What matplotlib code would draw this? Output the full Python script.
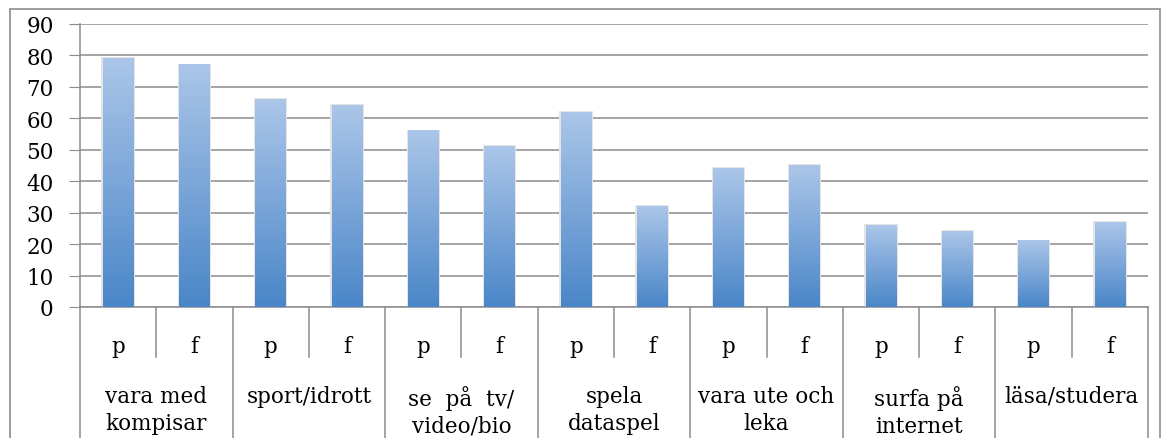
import numpy as np
import matplotlib
matplotlib.use("Agg")
import matplotlib.pyplot as plt
from matplotlib.colors import LinearSegmentedColormap
from matplotlib.patches import Rectangle
import matplotlib.transforms as mtransforms

# data
groups = ["vara med\nkompisar", "sport/idrott", "se  på  tv/\nvideo/bio", "spela\ndataspel",
          "vara ute och\nleka", "surfa på\ninternet", "läsa/studera"]
subs = ["p", "f"]
p_values = [79, 66, 56, 62, 44, 26, 21]
f_values = [77, 64, 51, 32, 45, 24, 27]
y_ticks = list(range(0, 100, 10))

plt.rcParams['font.family'] = ['DejaVu Serif', 'Liberation Serif']
grey = "#8c8c8c"
fs = 15.5

fig = plt.figure(figsize=(11.7, 4.39), dpi=100)
ax = fig.add_axes([80 / 1170, 131 / 439, 1068 / 1170, 283 / 439])

# outer chart border (bottom is cut off in the reference)
fig.patches.append(Rectangle((10 / 1170, -0.1), 1150 / 1170, 1.1 - 10 / 439,
                             transform=fig.transFigure, fill=False,
                             edgecolor=grey, linewidth=1.2))

values = []
for p, f in zip(p_values, f_values):
    values += [p, f]
n = len(values)
xs = np.arange(n)
bar_w = 0.4

cmap = LinearSegmentedColormap.from_list("bar", ["#4a86c8", "#abc6e9"])
grad = np.linspace(0, 1, 256).reshape(-1, 1)
for x, v in zip(xs, values):
    # soft shadow round the bar
    ax.add_patch(Rectangle((x - bar_w / 2 - 0.02, 0), bar_w + 0.04, v + 0.4,
                           facecolor="#e4e4e4", edgecolor="none", zorder=2))
    ax.imshow(grad, extent=[x - bar_w / 2, x + bar_w / 2, 0, v], origin="lower",
              aspect="auto", cmap=cmap, zorder=3)

ax.set_xlim(-0.5, n - 0.5)
ax.set_ylim(0, 90)
ax.set_yticks(y_ticks)
ax.tick_params(axis="y", labelsize=fs, length=8, color=grey, pad=11)
ax.grid(axis="y", color=grey, linewidth=1.1, zorder=1)
ax.set_axisbelow(True)
for side in ["top", "right"]:
    ax.spines[side].set_visible(False)
ax.spines["left"].set_color(grey)
ax.spines["bottom"].set_color(grey)
ax.spines["left"].set_linewidth(1.1)
ax.spines["bottom"].set_linewidth(1.1)

# multi-level category axis
ax.set_xticks(xs)
ax.set_xticklabels(subs * len(groups), fontsize=fs)
ax.tick_params(axis="x", length=0, pad=20)

trans = mtransforms.blended_transform_factory(ax.transData, ax.transAxes)
for i in range(n + 1):
    bottom = -0.5 if i % 2 == 0 else -0.177
    ax.plot([i - 0.5, i - 0.5], [0, bottom], transform=trans, color=grey,
            linewidth=1.1, clip_on=False)
for g, label in enumerate(groups):
    ax.text(2 * g + 0.5, -0.275, label, transform=trans, ha="center", va="top",
            fontsize=fs, linespacing=1.3)

fig.savefig("out.png", dpi=100)
